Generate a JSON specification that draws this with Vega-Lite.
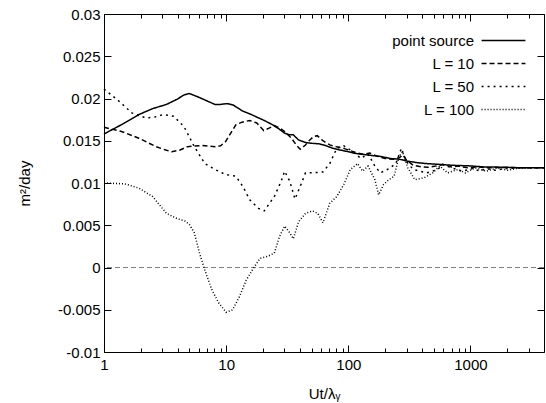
{
  "$schema": "https://vega.github.io/schema/vega-lite/v6.json",
  "width": 440,
  "height": 338,
  "autosize": {"type": "none"},
  "padding": {"left": 104, "top": 14, "right": 2, "bottom": 51},
  "background": "white",
  "config": {
    "view": {"stroke": null},
    "font": "Liberation Sans",
    "axis": {"grid": false, "domainColor": "black", "tickColor": "black", "labelColor": "black", "titleColor": "black", "labelFont": "Liberation Sans", "titleFont": "Liberation Sans", "labelFontSize": 15, "titleFontSize": 15, "titleFontWeight": "normal", "labelFlush": false, "labelOverlap": false, "labelBound": false}
  },
  "datasets": {
    "curves": [
      {"s": "point source", "x": 1, "y": 0.0158},
      {"s": "point source", "x": 1.39, "y": 0.0169},
      {"s": "point source", "x": 1.93, "y": 0.0181},
      {"s": "point source", "x": 2.5, "y": 0.0188},
      {"s": "point source", "x": 3.25, "y": 0.0193},
      {"s": "point source", "x": 3.95, "y": 0.0199},
      {"s": "point source", "x": 4.5, "y": 0.0204},
      {"s": "point source", "x": 4.97, "y": 0.0206},
      {"s": "point source", "x": 5.86, "y": 0.0202},
      {"s": "point source", "x": 7.0, "y": 0.0197},
      {"s": "point source", "x": 8.1, "y": 0.0193},
      {"s": "point source", "x": 9.0, "y": 0.0193},
      {"s": "point source", "x": 10.3, "y": 0.0194},
      {"s": "point source", "x": 11.5, "y": 0.0192},
      {"s": "point source", "x": 13.7, "y": 0.0185},
      {"s": "point source", "x": 15.5, "y": 0.0182},
      {"s": "point source", "x": 17.8, "y": 0.0178},
      {"s": "point source", "x": 20.5, "y": 0.0174},
      {"s": "point source", "x": 23.2, "y": 0.0170},
      {"s": "point source", "x": 26.5, "y": 0.0165},
      {"s": "point source", "x": 30.1, "y": 0.0159},
      {"s": "point source", "x": 33, "y": 0.0157},
      {"s": "point source", "x": 35.5, "y": 0.0157},
      {"s": "point source", "x": 39.1, "y": 0.0151},
      {"s": "point source", "x": 44.6, "y": 0.0148},
      {"s": "point source", "x": 50, "y": 0.0147},
      {"s": "point source", "x": 58, "y": 0.01463},
      {"s": "point source", "x": 66, "y": 0.0144},
      {"s": "point source", "x": 75, "y": 0.0141},
      {"s": "point source", "x": 86, "y": 0.0139},
      {"s": "point source", "x": 98, "y": 0.01373},
      {"s": "point source", "x": 115, "y": 0.0135},
      {"s": "point source", "x": 130, "y": 0.0134},
      {"s": "point source", "x": 145, "y": 0.0133},
      {"s": "point source", "x": 165, "y": 0.01322},
      {"s": "point source", "x": 188, "y": 0.01312},
      {"s": "point source", "x": 220, "y": 0.0129},
      {"s": "point source", "x": 261, "y": 0.01282},
      {"s": "point source", "x": 300, "y": 0.0126},
      {"s": "point source", "x": 363, "y": 0.01242},
      {"s": "point source", "x": 430, "y": 0.0123},
      {"s": "point source", "x": 537, "y": 0.01222},
      {"s": "point source", "x": 700, "y": 0.0121},
      {"s": "point source", "x": 968, "y": 0.01203},
      {"s": "point source", "x": 1300, "y": 0.0119},
      {"s": "point source", "x": 1862, "y": 0.01187},
      {"s": "point source", "x": 2600, "y": 0.0118},
      {"s": "point source", "x": 4000, "y": 0.0118},

      {"s": "L = 10", "x": 1, "y": 0.0166},
      {"s": "L = 10", "x": 1.39, "y": 0.0161},
      {"s": "L = 10", "x": 1.93, "y": 0.0153},
      {"s": "L = 10", "x": 2.67, "y": 0.0143},
      {"s": "L = 10", "x": 3.2, "y": 0.0139},
      {"s": "L = 10", "x": 3.58, "y": 0.0137},
      {"s": "L = 10", "x": 4.2, "y": 0.0139},
      {"s": "L = 10", "x": 4.82, "y": 0.0143},
      {"s": "L = 10", "x": 6.25, "y": 0.01444},
      {"s": "L = 10", "x": 8.1, "y": 0.0143},
      {"s": "L = 10", "x": 9.0, "y": 0.0144},
      {"s": "L = 10", "x": 9.9, "y": 0.0149},
      {"s": "L = 10", "x": 11.0, "y": 0.016},
      {"s": "L = 10", "x": 12.0, "y": 0.01688},
      {"s": "L = 10", "x": 13.5, "y": 0.0172},
      {"s": "L = 10", "x": 15.6, "y": 0.0174},
      {"s": "L = 10", "x": 17.8, "y": 0.0171},
      {"s": "L = 10", "x": 20.3, "y": 0.0162},
      {"s": "L = 10", "x": 22.5, "y": 0.0165},
      {"s": "L = 10", "x": 24.8, "y": 0.0168},
      {"s": "L = 10", "x": 27.5, "y": 0.0165},
      {"s": "L = 10", "x": 30.1, "y": 0.0161},
      {"s": "L = 10", "x": 34.3, "y": 0.0153},
      {"s": "L = 10", "x": 37.5, "y": 0.0145},
      {"s": "L = 10", "x": 40.4, "y": 0.014},
      {"s": "L = 10", "x": 44.6, "y": 0.0145},
      {"s": "L = 10", "x": 47.7, "y": 0.015},
      {"s": "L = 10", "x": 52, "y": 0.0155},
      {"s": "L = 10", "x": 55.7, "y": 0.0156},
      {"s": "L = 10", "x": 62, "y": 0.015},
      {"s": "L = 10", "x": 70.5, "y": 0.01451},
      {"s": "L = 10", "x": 80, "y": 0.0143},
      {"s": "L = 10", "x": 91.7, "y": 0.0141},
      {"s": "L = 10", "x": 105, "y": 0.0138},
      {"s": "L = 10", "x": 119, "y": 0.01355},
      {"s": "L = 10", "x": 132, "y": 0.0134},
      {"s": "L = 10", "x": 150, "y": 0.01355},
      {"s": "L = 10", "x": 170, "y": 0.0132},
      {"s": "L = 10", "x": 200, "y": 0.0129},
      {"s": "L = 10", "x": 235, "y": 0.0128},
      {"s": "L = 10", "x": 262, "y": 0.013},
      {"s": "L = 10", "x": 280, "y": 0.0133},
      {"s": "L = 10", "x": 300, "y": 0.0127},
      {"s": "L = 10", "x": 340, "y": 0.0121},
      {"s": "L = 10", "x": 400, "y": 0.0119},
      {"s": "L = 10", "x": 450, "y": 0.01185},
      {"s": "L = 10", "x": 520, "y": 0.012},
      {"s": "L = 10", "x": 600, "y": 0.0122},
      {"s": "L = 10", "x": 700, "y": 0.0119},
      {"s": "L = 10", "x": 800, "y": 0.012},
      {"s": "L = 10", "x": 950, "y": 0.0118},
      {"s": "L = 10", "x": 1150, "y": 0.0119},
      {"s": "L = 10", "x": 1400, "y": 0.0118},
      {"s": "L = 10", "x": 1800, "y": 0.01185},
      {"s": "L = 10", "x": 2500, "y": 0.0118},
      {"s": "L = 10", "x": 4000, "y": 0.0118},

      {"s": "L = 50", "x": 1, "y": 0.0211},
      {"s": "L = 50", "x": 1.3, "y": 0.0198},
      {"s": "L = 50", "x": 1.69, "y": 0.0183},
      {"s": "L = 50", "x": 2.19, "y": 0.0177},
      {"s": "L = 50", "x": 2.6, "y": 0.0178},
      {"s": "L = 50", "x": 3.05, "y": 0.0181},
      {"s": "L = 50", "x": 3.71, "y": 0.0179},
      {"s": "L = 50", "x": 4.51, "y": 0.0167},
      {"s": "L = 50", "x": 5.49, "y": 0.0143},
      {"s": "L = 50", "x": 6.69, "y": 0.0123},
      {"s": "L = 50", "x": 8.1, "y": 0.0116},
      {"s": "L = 50", "x": 9.9, "y": 0.011},
      {"s": "L = 50", "x": 12, "y": 0.0108},
      {"s": "L = 50", "x": 13.7, "y": 0.0096},
      {"s": "L = 50", "x": 15.6, "y": 0.008},
      {"s": "L = 50", "x": 18.4, "y": 0.007},
      {"s": "L = 50", "x": 20.5, "y": 0.0067},
      {"s": "L = 50", "x": 24.8, "y": 0.0084},
      {"s": "L = 50", "x": 28.2, "y": 0.0102},
      {"s": "L = 50", "x": 30.1, "y": 0.0114},
      {"s": "L = 50", "x": 33.2, "y": 0.0102},
      {"s": "L = 50", "x": 36.6, "y": 0.0081},
      {"s": "L = 50", "x": 40.4, "y": 0.0096},
      {"s": "L = 50", "x": 44.6, "y": 0.0112},
      {"s": "L = 50", "x": 50.9, "y": 0.0112},
      {"s": "L = 50", "x": 62, "y": 0.0113},
      {"s": "L = 50", "x": 70.5, "y": 0.0123},
      {"s": "L = 50", "x": 80.5, "y": 0.0141},
      {"s": "L = 50", "x": 91.7, "y": 0.0144},
      {"s": "L = 50", "x": 104, "y": 0.0139},
      {"s": "L = 50", "x": 127, "y": 0.0129},
      {"s": "L = 50", "x": 145, "y": 0.01345},
      {"s": "L = 50", "x": 165, "y": 0.012},
      {"s": "L = 50", "x": 183, "y": 0.0112},
      {"s": "L = 50", "x": 215, "y": 0.0117},
      {"s": "L = 50", "x": 245, "y": 0.0123},
      {"s": "L = 50", "x": 272, "y": 0.0141},
      {"s": "L = 50", "x": 300, "y": 0.0125},
      {"s": "L = 50", "x": 340, "y": 0.0116},
      {"s": "L = 50", "x": 440, "y": 0.0112},
      {"s": "L = 50", "x": 540, "y": 0.0116},
      {"s": "L = 50", "x": 590, "y": 0.0122},
      {"s": "L = 50", "x": 700, "y": 0.0118},
      {"s": "L = 50", "x": 850, "y": 0.0114},
      {"s": "L = 50", "x": 1040, "y": 0.0117},
      {"s": "L = 50", "x": 1200, "y": 0.0114},
      {"s": "L = 50", "x": 1350, "y": 0.0117},
      {"s": "L = 50", "x": 1600, "y": 0.0115},
      {"s": "L = 50", "x": 1860, "y": 0.0117},
      {"s": "L = 50", "x": 2550, "y": 0.0118},
      {"s": "L = 50", "x": 4000, "y": 0.0118},

      {"s": "L = 100", "x": 1, "y": 0.01},
      {"s": "L = 100", "x": 1.48, "y": 0.0099},
      {"s": "L = 100", "x": 1.93, "y": 0.0094},
      {"s": "L = 100", "x": 2.5, "y": 0.0084},
      {"s": "L = 100", "x": 3.25, "y": 0.0064},
      {"s": "L = 100", "x": 3.95, "y": 0.0058},
      {"s": "L = 100", "x": 4.6, "y": 0.0055},
      {"s": "L = 100", "x": 5.0, "y": 0.0051},
      {"s": "L = 100", "x": 5.49, "y": 0.0041},
      {"s": "L = 100", "x": 6.05, "y": 0.0017},
      {"s": "L = 100", "x": 6.69, "y": -0.0003},
      {"s": "L = 100", "x": 7.62, "y": -0.0026},
      {"s": "L = 100", "x": 8.7, "y": -0.0042},
      {"s": "L = 100", "x": 10.0, "y": -0.0053},
      {"s": "L = 100", "x": 11.3, "y": -0.005},
      {"s": "L = 100", "x": 12.9, "y": -0.0034},
      {"s": "L = 100", "x": 14.6, "y": -0.0015},
      {"s": "L = 100", "x": 16.7, "y": -0.0001},
      {"s": "L = 100", "x": 19, "y": 0.0011},
      {"s": "L = 100", "x": 21.7, "y": 0.0013},
      {"s": "L = 100", "x": 24.8, "y": 0.0017},
      {"s": "L = 100", "x": 27.4, "y": 0.0037},
      {"s": "L = 100", "x": 30.1, "y": 0.0049},
      {"s": "L = 100", "x": 33.2, "y": 0.0041},
      {"s": "L = 100", "x": 35.5, "y": 0.0034},
      {"s": "L = 100", "x": 39.1, "y": 0.0054},
      {"s": "L = 100", "x": 44.6, "y": 0.0064},
      {"s": "L = 100", "x": 50.9, "y": 0.0067},
      {"s": "L = 100", "x": 56.3, "y": 0.0064},
      {"s": "L = 100", "x": 62, "y": 0.0053},
      {"s": "L = 100", "x": 70.5, "y": 0.0076},
      {"s": "L = 100", "x": 80.5, "y": 0.0084},
      {"s": "L = 100", "x": 91.7, "y": 0.0098},
      {"s": "L = 100", "x": 104, "y": 0.0116},
      {"s": "L = 100", "x": 119, "y": 0.0123},
      {"s": "L = 100", "x": 131, "y": 0.0114},
      {"s": "L = 100", "x": 145, "y": 0.012},
      {"s": "L = 100", "x": 165, "y": 0.0104},
      {"s": "L = 100", "x": 177, "y": 0.0086},
      {"s": "L = 100", "x": 194, "y": 0.0098},
      {"s": "L = 100", "x": 215, "y": 0.0104},
      {"s": "L = 100", "x": 237, "y": 0.0108},
      {"s": "L = 100", "x": 260, "y": 0.0131},
      {"s": "L = 100", "x": 278, "y": 0.0137},
      {"s": "L = 100", "x": 307, "y": 0.0118},
      {"s": "L = 100", "x": 350, "y": 0.0104},
      {"s": "L = 100", "x": 415, "y": 0.0106},
      {"s": "L = 100", "x": 490, "y": 0.0112},
      {"s": "L = 100", "x": 560, "y": 0.012},
      {"s": "L = 100", "x": 650, "y": 0.0112},
      {"s": "L = 100", "x": 790, "y": 0.0116},
      {"s": "L = 100", "x": 910, "y": 0.0112},
      {"s": "L = 100", "x": 1090, "y": 0.0118},
      {"s": "L = 100", "x": 1350, "y": 0.0114},
      {"s": "L = 100", "x": 1650, "y": 0.0118},
      {"s": "L = 100", "x": 2000, "y": 0.0115},
      {"s": "L = 100", "x": 2550, "y": 0.0118},
      {"s": "L = 100", "x": 4000, "y": 0.0118}
    ]
  },
  "data": {"name": "curves"},
  "layer": [
    {
      "mark": {"type": "rule", "stroke": "#808080", "strokeWidth": 1, "strokeDash": [5, 3]},
      "encoding": {
        "y": {"datum": 0, "type": "quantitative", "scale": {"domain": [-0.01, 0.03], "nice": false, "zero": false}, "axis": null}
      }
    },
    {
      "mark": {"type": "line", "color": "black", "strokeWidth": 1.5},
      "encoding": {
        "x": {
          "field": "x", "type": "quantitative",
          "scale": {"type": "log", "domain": [1, 4000], "nice": false},
          "title": "Ut/λᵧ",
          "axis": {
            "orient": "bottom",
            "values": [1, 2, 3, 4, 5, 6, 7, 8, 9, 10, 20, 30, 40, 50, 60, 70, 80, 90, 100, 200, 300, 400, 500, 600, 700, 800, 900, 1000, 2000, 3000],
            "labelExpr": "indexof([1,10,100,1000], datum.value) >= 0 ? '' + datum.value : ''",
            "tickSize": {"condition": {"test": "indexof([1,10,100,1000], datum.value) >= 0", "value": -7}, "value": -4},
            "labelPadding": 12,
            "titlePadding": 11
          }
        },
        "y": {
          "field": "y", "type": "quantitative",
          "scale": {"domain": [-0.01, 0.03], "nice": false, "zero": false},
          "title": "m²/day",
          "axis": {
            "orient": "left",
            "values": [-0.01, -0.005, 0, 0.005, 0.01, 0.015, 0.02, 0.025, 0.03],
            "labelExpr": "'' + datum.value",
            "tickSize": -7,
            "labelPadding": 11,
            "titleX": -72,
            "titleY": 169
          }
        },
        "strokeDash": {
          "field": "s", "type": "nominal",
          "scale": {"domain": ["point source", "L = 10", "L = 50", "L = 100"], "range": [[1, 0], [5, 3], [2, 4], [1, 2]]},
          "legend": {
            "title": null,
            "orient": "none",
            "legendX": 392,
            "legendY": 19,
            "padding": 0,
            "symbolType": "M -5 0 L 5 0",
            "symbolSize": 77,
            "symbolStrokeWidth": 1.5,
            "symbolStrokeColor": "black",
            "symbolFillColor": "transparent",
            "symbolOpacity": 1,
            "labelAlign": "right",
            "labelOffset": -37,
            "labelFontSize": 15,
            "labelFont": "Liberation Sans",
            "labelColor": "black",
            "rowPadding": 7,
            "labelLimit": 300
          }
        }
      }
    },
    {
      "mark": {"type": "line", "opacity": 0},
      "encoding": {
        "x": {
          "field": "x", "type": "quantitative",
          "scale": {"type": "log", "domain": [1, 4000], "nice": false},
          "axis": {
            "orient": "top", "title": null, "labels": false,
            "values": [1, 2, 3, 4, 5, 6, 7, 8, 9, 10, 20, 30, 40, 50, 60, 70, 80, 90, 100, 200, 300, 400, 500, 600, 700, 800, 900, 1000, 2000, 3000],
            "tickSize": {"condition": {"test": "indexof([1,10,100,1000], datum.value) >= 0", "value": -7}, "value": -4}
          }
        },
        "y": {
          "field": "y", "type": "quantitative",
          "scale": {"domain": [-0.01, 0.03], "nice": false, "zero": false},
          "axis": {
            "orient": "right", "title": null, "labels": false,
            "values": [-0.01, -0.005, 0, 0.005, 0.01, 0.015, 0.02, 0.025, 0.03],
            "tickSize": -7
          }
        },
        "detail": {"field": "s"}
      }
    }
  ],
  "resolve": {"axis": {"x": "independent", "y": "independent"}}
}
